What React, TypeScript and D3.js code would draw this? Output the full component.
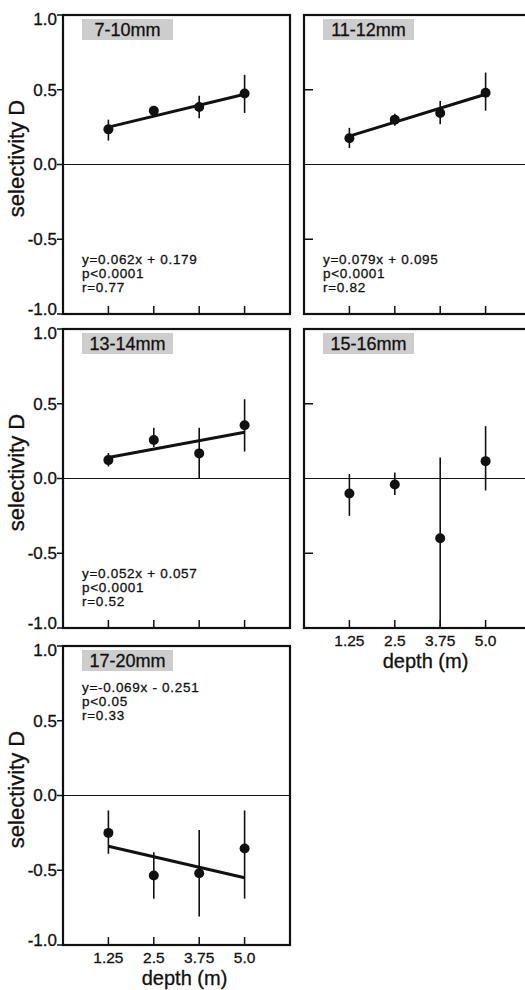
import React, { useEffect, useRef } from "react";
import * as d3 from "d3";

const depths = [1.25, 2.5, 3.75, 5.0];
const depthLabels = ["1.25", "2.5", "3.75", "5.0"];
const yTicks = [-1, -0.5, 0, 0.5, 1];
const yTickLabels = ["-1.0", "-0.5", "0.0", "0.5", "1.0"];
const sizeClasses = ["7-10mm", "11-12mm", "13-14mm", "15-16mm", "17-20mm"];

// mean selectivity D per depth, one row per size class
const meanD = [
  [0.235, 0.36, 0.385, 0.475],
  [0.175, 0.3, 0.345, 0.48],
  [0.123, 0.257, 0.168, 0.356],
  [-0.1, -0.04, -0.4, 0.116],
  [-0.25, -0.535, -0.52, -0.355],
];
const upperD = [
  [0.3, 0.39, 0.46, 0.6],
  [0.245, 0.34, 0.425, 0.615],
  [0.17, 0.34, 0.34, 0.53],
  [0.03, 0.04, 0.14, 0.35],
  [-0.1, -0.38, -0.23, -0.1],
];
const lowerD = [
  [0.16, 0.33, 0.31, 0.345],
  [0.11, 0.26, 0.27, 0.36],
  [0.08, 0.21, 0.0, 0.18],
  [-0.25, -0.11, -1.1, -0.08],
  [-0.39, -0.69, -0.81, -0.69],
];

// regression line ends at 1.25 m and 5.0 m (no fit for 15-16mm)
const fitStart = [0.25, 0.19, 0.14, null, -0.34];
const fitEnd = [0.47, 0.47, 0.31, null, -0.55];

const statText = [
  ["y=0.062x + 0.179", "p<0.0001", "r=0.77"],
  ["y=0.079x + 0.095", "p<0.0001", "r=0.82"],
  ["y=0.052x + 0.057", "p<0.0001", "r=0.52"],
  [],
  ["y=-0.069x - 0.251", "p<0.05", "r=0.33"],
];

const W = 525;
const H = 990;
const colLeft = [63, 304];
const rowTop = [15, 329, 646];
const pw = 227;
const ph = 299;
const FONT = "'Liberation Sans', Arial, Helvetica, sans-serif";
const INK = "#111";

export default function App() {
  const svgRef = useRef<SVGSVGElement>(null);

  useEffect(() => {
    const svgEl = svgRef.current;
    if (!svgEl) return;
    const svg = d3.select(svgEl);
    svg.selectAll("*").remove();

    const addText = (g: any, size: number) =>
      g.append("text")
        .attr("font-family", FONT)
        .attr("font-size", size)
        .attr("fill", INK)
        .attr("stroke", INK)
        .attr("stroke-width", 0.3);

    sizeClasses.forEach((name, i) => {
      const col = i % 2;
      const row = Math.floor(i / 2);
      const left = colLeft[col];
      const top = rowTop[row];

      const x = d3.scaleLinear().domain([0, 6.25]).range([left, left + pw]);
      const y = d3.scaleLinear().domain([-1, 1]).range([top + ph, top]).clamp(true);

      const g = svg.append("g");

      // zero line
      g.append("line")
        .attr("x1", left).attr("x2", left + pw)
        .attr("y1", y(0)).attr("y2", y(0))
        .attr("stroke", INK).attr("stroke-width", 1.2);

      // y ticks: outside with labels on the left column, inside on the right
      yTicks.forEach((t, k) => {
        if (col === 0) {
          g.append("line")
            .attr("x1", left - 6).attr("x2", left)
            .attr("y1", y(t)).attr("y2", y(t))
            .attr("stroke", INK).attr("stroke-width", 1.5);
          const nudge = t === 1 ? 4 : t === -1 ? -5 : 0;
          addText(g, 17)
            .attr("x", left - 6)
            .attr("y", y(t) + nudge)
            .attr("dy", "0.35em")
            .attr("text-anchor", "end")
            .text(yTickLabels[k]);
        } else if (Math.abs(t) === 0.5) {
          g.append("line")
            .attr("x1", left).attr("x2", left + 9)
            .attr("y1", y(t)).attr("y2", y(t))
            .attr("stroke", INK).attr("stroke-width", 1.5);
        }
      });

      // x ticks inside the bottom
      depths.forEach((d) => {
        g.append("line")
          .attr("x1", x(d)).attr("x2", x(d))
          .attr("y1", top + ph).attr("y2", top + ph - 8)
          .attr("stroke", INK).attr("stroke-width", 1.5);
      });

      // frame
      g.append("rect")
        .attr("x", left).attr("y", top)
        .attr("width", pw).attr("height", ph)
        .attr("fill", "none")
        .attr("stroke", INK).attr("stroke-width", 2.2);

      // size class label with grey box
      g.append("rect")
        .attr("x", left + 19).attr("y", top + 4)
        .attr("width", 91).attr("height", 21)
        .attr("fill", "#cdcdcd");
      addText(g, 18)
        .attr("x", left + 19 + 45.5)
        .attr("y", top + 21)
        .attr("text-anchor", "middle")
        .text(name);

      // regression line
      const s = fitStart[i];
      const e = fitEnd[i];
      if (s !== null && e !== null) {
        const line = d3.line<[number, number]>()
          .x((p) => x(p[0]))
          .y((p) => y(p[1]));
        g.append("path")
          .datum([[depths[0], s], [depths[depths.length - 1], e]] as [number, number][])
          .attr("d", line)
          .attr("fill", "none")
          .attr("stroke", INK)
          .attr("stroke-width", 3);
      }

      // error bars and points
      depths.forEach((d, j) => {
        g.append("line")
          .attr("x1", x(d)).attr("x2", x(d))
          .attr("y1", y(upperD[i][j])).attr("y2", y(lowerD[i][j]))
          .attr("stroke", INK).attr("stroke-width", 1.6);
        g.append("circle")
          .attr("cx", x(d)).attr("cy", y(meanD[i][j]))
          .attr("r", 5)
          .attr("fill", INK);
      });

      // statistics text
      const stats = statText[i];
      const baseY = row === 2 ? top + 46 : top + ph - 50;
      stats.forEach((txt, k) => {
        addText(g, 13.5)
          .attr("x", left + 19)
          .attr("y", baseY + k * 14)
          .attr("letter-spacing", 0.7)
          .text(txt);
      });

      // y axis title
      if (col === 0) {
        const cy = top + ph / 2 - 6;
        addText(g, 22)
          .attr("transform", `translate(24,${cy}) rotate(-90)`)
          .attr("text-anchor", "middle")
          .text("selectivity D");
      }

      // x axis labels for bottom panels of each column
      if (i === 3 || i === 4) {
        depths.forEach((d, j) => {
          addText(g, 15.5)
            .attr("x", x(d))
            .attr("y", top + ph + 18)
            .attr("text-anchor", "middle")
            .text(depthLabels[j]);
        });
        addText(g, 20)
          .attr("x", left + pw / 2 + 8)
          .attr("y", top + ph + 40)
          .attr("text-anchor", "middle")
          .text("depth (m)");
      }
    });
  }, []);

  return (
    <svg
      ref={svgRef}
      width={W}
      height={H}
      viewBox={`0 0 ${W} ${H}`}
      style={{ position: "absolute", left: 0, top: 0, background: "#fff" }}
    />
  );
}
